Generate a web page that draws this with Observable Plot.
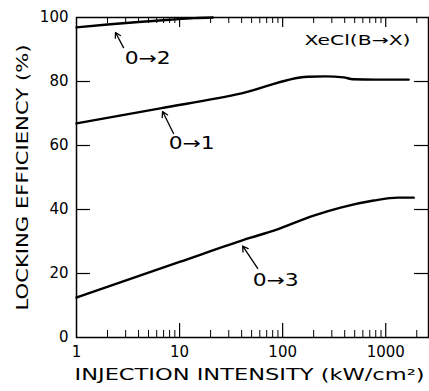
<!DOCTYPE html>
<html><head><meta charset="utf-8">
<script src="https://cdn.jsdelivr.net/npm/d3@7"></script>
<script src="https://cdn.jsdelivr.net/npm/@observablehq/plot@0.6"></script>
<style>body{margin:0;background:#fff}</style>
</head><body><div id="chart"></div>
<script>
// Data
const x02 = [1, 2, 4, 8, 14, 21];
const y02 = [96.9, 97.8, 98.6, 99.3, 99.8, 100];
const x01 = [1, 6.5, 40, 175, 260, 390, 480, 800, 1670];
const y01 = [66.9, 71.6, 76.3, 81.5, 81.6, 81.3, 80.7, 80.6, 80.6];
const x03 = [1, 10, 49, 82, 200, 365, 765, 1310, 1870];
const y03 = [12.5, 23.6, 31.2, 33.4, 38.1, 40.6, 42.8, 43.7, 43.7];
const seriesNames = ["0→2", "0→1", "0→3"];
// label positions and arrows (data coordinates)
const labelX = [4.9, 13.1, 85.5];
const labelY = [87.2, 60.6, 17.8];
const arrowX1 = [2.86, 8.74, 57.2];
const arrowY1 = [90.6, 63.75, 21.6];
const arrowX2 = [2.39, 6.84, 40.9];
const arrowY2 = [95.3, 70.6, 28.6];
const xTicks = [1, 10, 100, 1000];
const xMinor = [2,3,4,5,6,7,8,9,20,30,40,50,60,70,80,90,200,300,400,500,600,700,800,900,2000];
const yTicks = [0, 20, 40, 60, 80, 100];
const yInner = [20, 40, 60, 80];
const title = "XeCl(B→X)";
const xLabel = "INJECTION INTENSITY (kW/cm²)";
const yLabel = "LOCKING EFFICIENCY (%)";

const lines = [
  ...x02.map((x, i) => ({s: seriesNames[0], x, y: y02[i]})),
  ...x01.map((x, i) => ({s: seriesNames[1], x, y: y01[i]})),
  ...x03.map((x, i) => ({s: seriesNames[2], x, y: y03[i]}))
];
const ann = seriesNames.map((s, i) => ({s, lx: labelX[i], ly: labelY[i], x1: arrowX1[i], y1: arrowY1[i], x2: arrowX2[i], y2: arrowY2[i]}));

const W = 429, H = 391, mL = 76, mR = 1, mT = 17, mB = 54;
const pw = W - mL - mR, ph = H - mT - mB;

const plot = Plot.plot({
  width: W, height: H,
  marginLeft: mL, marginRight: mR, marginTop: mT, marginBottom: mB,
  style: {fontFamily: "DejaVu Sans", fontSize: "14px", background: "#fff", color: "#000"},
  x: {type: "log", domain: [1, 2600]},
  y: {domain: [0, 100]},
  marks: [
    Plot.frame({stroke: "#000", strokeWidth: 1.5}),
    Plot.axisX({ticks: xTicks, tickFormat: d => String(d), tickSize: 0, tickPadding: 9, label: null, fontSize: 15}),
    Plot.axisY({ticks: yTicks, tickFormat: d => String(d), tickSize: 0, tickPadding: 8, label: null, fontSize: 15}),
    // inward ticks
    Plot.tickX(xTicks.slice(1), {x: d => d, insetTop: ph - 14, stroke: "#000", strokeWidth: 1.2}),
    Plot.tickX(xMinor, {x: d => d, insetTop: ph - 7, stroke: "#000", strokeWidth: 1}),
    Plot.tickX(xTicks.slice(1), {x: d => d, insetBottom: ph - 10, stroke: "#000", strokeWidth: 1.2}),
    Plot.tickX(xMinor, {x: d => d, insetBottom: ph - 6, stroke: "#000", strokeWidth: 1}),
    Plot.tickY(yInner, {y: d => d, insetRight: pw - 14, stroke: "#000", strokeWidth: 1.2}),
    Plot.tickY(yInner, {y: d => d, insetLeft: pw - 14, stroke: "#000", strokeWidth: 1.2}),
    Plot.line(lines, {x: "x", y: "y", z: "s", stroke: "#000", strokeWidth: 2.4, curve: "monotone-x"}),
    Plot.arrow(ann, {x1: "x1", y1: "y1", x2: "x2", y2: "y2", stroke: "#000", strokeWidth: 1.3, headLength: 7}),
    Plot.text(ann, {x: "lx", y: "ly", text: "s", fontSize: 17, fill: "#000"}),
    Plot.text([title], {frameAnchor: "top-right", dx: -18, dy: 18, text: d => d, fontSize: 14, textAnchor: "end", fill: "#000"}),
    Plot.text([xLabel], {frameAnchor: "bottom", dx: -3, dy: 42, text: d => d, fontSize: 16, textAnchor: "middle", fill: "#000"}),
    Plot.text([yLabel], {frameAnchor: "left", dx: -53, rotate: -90, text: d => d, fontSize: 15, textAnchor: "middle", fill: "#000"})
  ]
});
d3.select(plot).selectAll("text").each(function() {
  const t = this.textContent;
  if (t === xLabel) d3.select(this).attr("textLength", 350).attr("lengthAdjust", "spacingAndGlyphs");
  if (t === yLabel) d3.select(this).attr("textLength", 266).attr("lengthAdjust", "spacingAndGlyphs");
  if (t === title) d3.select(this).attr("textLength", 106).attr("lengthAdjust", "spacingAndGlyphs");
  if (seriesNames.includes(t)) d3.select(this).attr("textLength", 46).attr("lengthAdjust", "spacingAndGlyphs");
});
document.getElementById("chart").appendChild(plot);
</script>
</body></html>
